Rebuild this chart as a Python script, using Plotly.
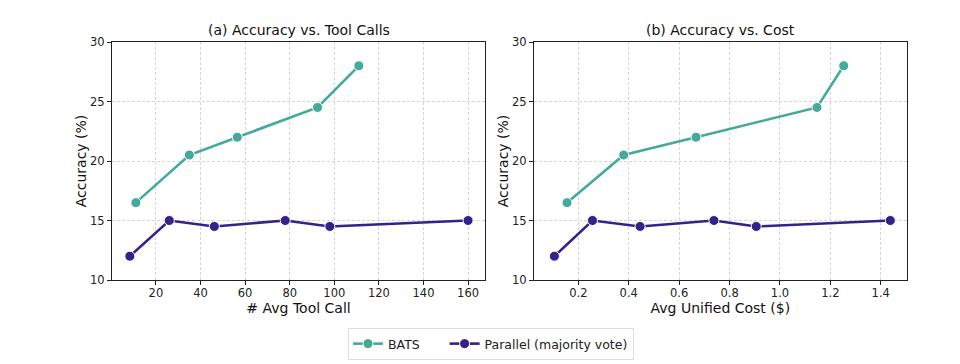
import plotly.graph_objects as go

# Data
bats_calls = [11, 35, 56.5, 92.5, 111]
bats_cost = [0.155, 0.38, 0.667, 1.147, 1.253]
bats_acc = [16.5, 20.5, 22.0, 24.5, 28.0]

par_calls = [8.3, 26, 46.2, 78, 98, 160]
par_cost = [0.105, 0.256, 0.445, 0.738, 0.906, 1.438]
par_acc = [12.0, 15.0, 14.5, 15.0, 14.5, 15.0]

x_ticks_left = [20, 40, 60, 80, 100, 120, 140, 160]
x_ticks_right = [0.2, 0.4, 0.6, 0.8, 1.0, 1.2, 1.4]
y_ticks = [10, 15, 20, 25, 30]

TEAL = "#44AA99"
INDIGO = "#332288"
FONT = "DejaVu Sans"

OFF = 8  # default page body margin
W, H = 960 - OFF, 364 - OFF


def px_x(p):
    return (p - OFF) / W


def px_y(p):
    return 1 - (p - OFF) / H


fig = go.Figure()


def add(x, y, name, color, xa, ya, show):
    fig.add_trace(go.Scatter(
        x=x, y=y, name=name, mode="lines+markers",
        line=dict(color=color, width=2.6),
        marker=dict(color=color, size=10, line=dict(color="white", width=1)),
        xaxis=xa, yaxis=ya, showlegend=show, legendgroup=name.strip("\u00a0"),
    ))


add(bats_calls, bats_acc, "BATS" + "\u00a0" * 5, TEAL, "x", "y", True)
add(par_calls, par_acc, "Parallel (majority vote)", INDIGO, "x", "y", True)
add(bats_cost, bats_acc, "BATS", TEAL, "x2", "y2", False)
add(par_cost, par_acc, "Parallel (majority vote)", INDIGO, "x2", "y2", False)

ybot = px_y(280)
ytop = px_y(42)

axis_common = dict(
    showline=True, linecolor="#222", linewidth=1, mirror=True,
    ticks="outside", ticklen=4, tickcolor="#222", tickwidth=1,
    showgrid=True, gridcolor="#d6d6d6", griddash="3px,2px", gridwidth=0.8,
    zeroline=False, automargin=False,
    tickfont=dict(family=FONT, size=11.5, color="#222"),
    title_font=dict(family=FONT, size=14, color="#111"),
)

fig.update_layout(
    width=W, height=H,
    margin=dict(l=0, r=0, t=0, b=0, autoexpand=False),
    paper_bgcolor="white", plot_bgcolor="white",
    font=dict(family=FONT, color="#222"),
    xaxis=dict(domain=[px_x(112), px_x(485)], anchor="y", range=[0.3, 167.6],
               tickvals=x_ticks_left, ticklabelstandoff=-2,
               title=dict(text="# Avg Tool Call", standoff=0), **axis_common),
    yaxis=dict(domain=[ybot, ytop], anchor="x", range=[10, 30],
               tickvals=y_ticks, title=dict(text="Accuracy (%)", standoff=0), **axis_common),
    xaxis2=dict(domain=[px_x(534), px_x(906.7)], anchor="y2", range=[0.024, 1.503],
                tickvals=x_ticks_right, tickformat=".1f", ticklabelstandoff=-2,
                title=dict(text="Avg Unified Cost ($)", standoff=0), **axis_common),
    yaxis2=dict(domain=[ybot, ytop], anchor="x2", range=[10, 30],
                tickvals=y_ticks, title=dict(text="Accuracy (%)", standoff=0), **axis_common),
    legend=dict(
        orientation="h", x=px_x(491), xanchor="center", y=px_y(344), yanchor="middle",
        bordercolor="#dddddd", borderwidth=1, bgcolor="white",
        font=dict(family=FONT, size=12.5, color="#222"),
        itemwidth=30,
    ),
    annotations=[
        dict(text="(a) Accuracy vs. Tool Calls", x=px_x((112 + 485) / 2), y=px_y(30),
             xref="paper", yref="paper", showarrow=False, xanchor="center", yanchor="middle",
             font=dict(family=FONT, size=14, color="#111")),
        dict(text="(b) Accuracy vs. Cost", x=px_x((534 + 906.7) / 2), y=px_y(30),
             xref="paper", yref="paper", showarrow=False, xanchor="center", yanchor="middle",
             font=dict(family=FONT, size=14, color="#111")),
    ],
)

fig.write_html("out.html")
